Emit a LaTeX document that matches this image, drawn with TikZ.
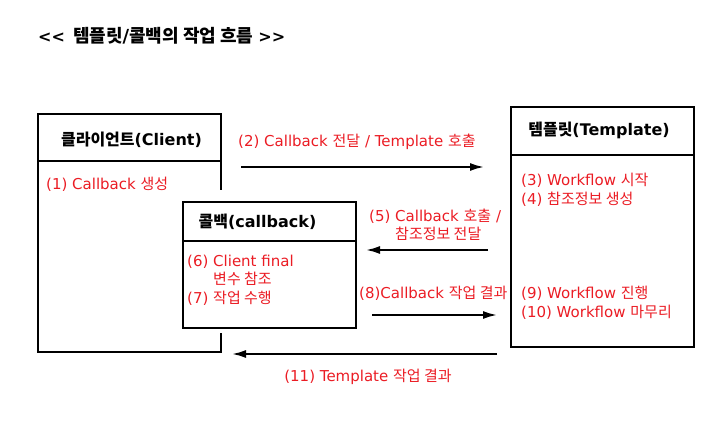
\documentclass[tikz,border=0pt]{standalone}
\usepackage{fontspec}
\setmainfont{DejaVu Sans}
\newfontfamily\krfont{Noto Sans CJK KR}
\newcommand{\kr}[1]{{\krfont #1}}
\usepackage{tikz}
\usetikzlibrary{arrows.meta}
\usetikzlibrary{positioning}
\definecolor{stepred}{RGB}{235,28,36}
\tikzset{
    umlbox/.style={draw=black, fill=white, line width=2pt, inner sep=0pt},
    boxtitle/.style={font=\fontsize{16}{19}\selectfont\bfseries, inner sep=0pt},
    steptxt/.style={text=stepred, font=\fontsize{15}{18.5}\selectfont, inner sep=0pt, anchor=west, align=left},
    flow/.style={draw=black, line width=2pt, -{Latex[length=14pt,width=8pt]}},
}
\begin{document}
\begin{tikzpicture}[x=1pt, y=-1pt]
	\useasboundingbox (0,0) rectangle (718,422);
	\node[boxtitle, anchor=west] (head) at (38,36) {<{}<\hspace{8pt}{\fontsize{18}{20}\selectfont\kr{템플릿}/\kr{콜백의 작업 흐름}}\hspace{5pt}>{}>};
	% boxes
	\node[umlbox, minimum width=183pt, minimum height=238pt] (client) at (129.5,233) {};
	\draw[line width=2pt] ([yshift=-48pt]client.north west) -- ([yshift=-48pt]client.north east);
	\node[umlbox, minimum width=183pt, minimum height=240pt] (tmpl) at (602.5,227) {};
	\draw[line width=2pt] ([yshift=-49pt]tmpl.north west) -- ([yshift=-49pt]tmpl.north east);
	\fill[white] (178,190) rectangle (360,333);
	\node[umlbox, minimum width=173pt, minimum height=126pt] (cb) at (269.5,265) {};
	\draw[line width=2pt] ([yshift=-40pt]cb.north west) -- ([yshift=-40pt]cb.north east);
	\node[boxtitle] (clienttitle) at (131.5,140) {\kr{클라이언트}(Client)};
	\node[boxtitle] (tmpltitle) at (599,130) {\kr{템플릿}(Template)};
	\node[boxtitle] (cbtitle) at (257.5,222) {\kr{콜백}(callback)};
	% steps
	\node[steptxt] (s1) at (46,184) {(1) Callback \kr{생성}};
	\node[steptxt] (s34) at (521,190) {(3) Workflow \kr{시작}\\(4) \kr{참조정보 생성}};
	\node[steptxt] (s67) at (187,280) {(6) Client final\\\hspace*{26pt}\kr{변수 참조}\\(7) \kr{작업 수행}};
	\node[steptxt] (s910) at (521,303) {(9) Workflow \kr{진행}\\(10) Workflow \kr{마무리}};
	% messages
	\node[steptxt] (m2) at (238,142) {(2) Callback \kr{전달} / Template \kr{호출}};
	\node[steptxt] (m5) at (369,225) {(5) Callback \kr{호출} /\\\hspace*{26pt}\kr{참조정보 전달}};
	\node[steptxt] (m8) at (359,293) {(8)Callback \kr{작업 결과}};
	\node[steptxt, anchor=center] (m11) at (368,377) {(11) Template \kr{작업 결과}};
	\coordinate (a2s) at (241,167);
	\coordinate (a2e) at (484,167);
	\coordinate (a5s) at (488,250);
	\coordinate (a5e) at (366,250);
	\coordinate (a8s) at (372,315);
	\coordinate (a8e) at (497,315);
	\coordinate (a11s) at (497,354);
	\coordinate (a11e) at (232,354);
	\draw[flow] (a2s) -- (a2e);
	\draw[flow] (a5s) -- (a5e);
	\draw[flow] (a8s) -- (a8e);
	\draw[flow] (a11s) -- (a11e);
\end{tikzpicture}
\end{document}
